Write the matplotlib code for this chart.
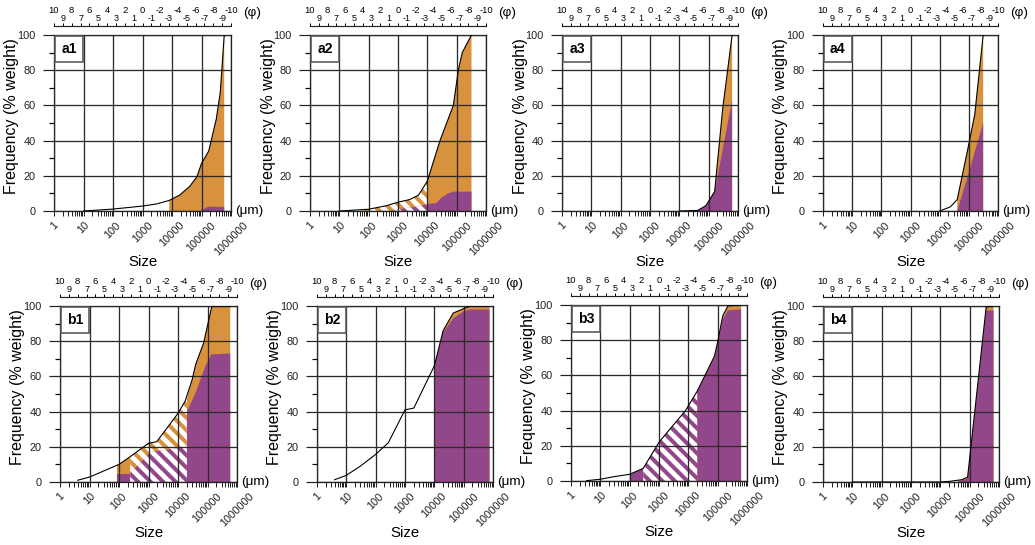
import matplotlib
matplotlib.use('Agg')
import matplotlib.pyplot as plt
from matplotlib.patches import Rectangle
from matplotlib.ticker import FixedLocator, FuncFormatter, LogLocator, NullFormatter

plt.rcParams['font.family'] = ['Liberation Sans', 'DejaVu Sans']
plt.rcParams['hatch.linewidth'] = 2.3
plt.rcParams['hatch.color'] = 'white'

ORANGE = '#d8913d'
PURPLE = '#93478b'
GRID = '#2a2a2a'

DPI = 150
W, H = 1035.0, 545.0

# ---- data (size in um, cumulative frequency in % weight) ----
size_ticks = [1, 10, 100, 1000, 10000, 100000, 1000000]
size_labels = ['1', '10', '100', '1000', '10000', '100000', '1000000']
freq_ticks = [0, 20, 40, 60, 80, 100]
phi_even = [10, 8, 6, 4, 2, 0, -2, -4, -6, -8, -10]
phi_odd = [9, 7, 5, 3, 1, -1, -3, -5, -7, -9]

# a1
a1_curve_x = [10, 100, 1000, 3000, 8000, 18000, 40000, 70000, 100000, 175000, 315000, 430000, 590000]
a1_curve_y = [0, 1.1, 2.8, 4.0, 6.0, 9.0, 14, 19.5, 27, 34, 52, 67, 100]
a1_orange_x = [8000, 18000, 40000, 70000, 100000, 175000, 315000, 430000, 590000]
a1_orange_y = [6.0, 9.0, 14, 19.5, 27, 34, 52, 67, 100]
a1_purple_x = [90000, 170000, 590000]
a1_purple_y = [0, 2.5, 2.3]

# a2
a2_curve_x = [10, 100, 400, 1000, 2500, 5000, 10000, 27000, 77000, 114000, 155000, 320000]
a2_curve_y = [0, 1.0, 3.0, 5.0, 6.5, 9.0, 17, 40, 60, 80, 90, 100]
a2_orange_x = [10000, 27000, 77000, 114000, 155000, 320000]
a2_orange_y = [17, 40, 60, 80, 90, 100]
a2_purple_x = [10000, 20000, 30000, 50000, 80000, 320000]
a2_purple_y = [4, 4.5, 7.5, 10, 11, 11]
a2_hatch_orange_x = [50, 100, 400, 1000, 2500, 5000, 10000]
a2_hatch_orange_y = [0, 1.0, 3.0, 5.0, 6.5, 9.0, 17]
a2_hatch_purple_x = [600, 1000, 2500, 5000, 10000]
a2_hatch_purple_y = [0, 1, 2, 2.5, 4]

# a3
a3_curve_x = [10000, 42000, 80000, 160000, 300000, 630000]
a3_curve_y = [0, 0.3, 3, 11, 58, 100]
a3_orange_x = [42000, 80000, 160000, 300000, 630000]
a3_orange_y = [0.3, 3, 11, 58, 100]
a3_purple_x = [42000, 80000, 160000, 630000]
a3_purple_y = [0, 3, 11, 63]

# a4
a4_curve_x = [10000, 23000, 40000, 100000, 160000, 310000]
a4_curve_y = [0, 2.3, 6.5, 38, 55, 100]
a4_orange_x = [40000, 100000, 160000, 310000]
a4_orange_y = [6.5, 38, 55, 100]
a4_purple_x = [40000, 100000, 310000]
a4_purple_y = [0, 22, 50]

# b1
b1_curve_x = [4, 10, 100, 240, 1000, 1900, 10000, 17500, 30000, 40000, 74000, 141000, 590000]
b1_curve_y = [1, 2.8, 10, 14.4, 22, 22.9, 39, 46, 58, 67, 79, 100, 100]
b1_orange_left_x = [85, 100, 240]
b1_orange_left_y = [9.5, 10, 14.4]
b1_purple_left_x = [85, 240]
b1_purple_left_y = [4.5, 4.5]
b1_hatch_orange_x = [240, 1000, 1900, 10000, 17500, 20000]
b1_hatch_orange_y = [14.4, 22, 22.9, 39, 46, 47.5]
b1_hatch_purple_x = [240, 1150, 20000]
b1_hatch_purple_y = [5, 17, 20]
b1_orange_x = [20000, 30000, 40000, 74000, 141000, 590000]
b1_orange_y = [47.5, 58, 67, 79, 100, 100]
b1_purple_x = [20000, 38000, 83000, 135000, 590000]
b1_purple_y = [40, 50, 65.5, 72.5, 73]

# b2
b2_curve_x = [4, 10, 30, 100, 270, 1000, 2000, 10000, 20000, 44000, 100000, 165000, 760000]
b2_curve_y = [1.3, 3.8, 9, 15.7, 22.3, 41, 42, 66, 86, 96, 98.5, 100, 100]
b2_orange_x = [10000, 20000, 44000, 100000, 165000, 760000]
b2_orange_y = [66, 86, 96, 98.5, 100, 100]
b2_purple_x = [10000, 20000, 44000, 100000, 165000, 760000]
b2_purple_y = [66, 85, 93, 97, 98, 98]

# b3
b3_curve_x = [3.4, 10, 30, 100, 290, 1000, 2500, 8000, 20000, 78000, 100000, 150000, 225000, 630000]
b3_curve_y = [0.2, 1, 2.5, 3.8, 7.2, 22, 30, 40, 51, 71, 79, 94, 99.5, 100]
b3_purple_left_x = [100, 290]
b3_purple_left_y = [3.8, 7.2]
b3_hatch_purple_x = [290, 1000, 2500, 8000, 20000]
b3_hatch_purple_y = [7.2, 22, 30, 40, 51]
b3_orange_x = [20000, 78000, 100000, 150000, 225000, 630000]
b3_orange_y = [51, 71, 79, 94, 99.5, 100]
b3_purple_x = [20000, 78000, 100000, 150000, 225000, 630000]
b3_purple_y = [51, 70, 78, 92, 97, 97.5]

# b4
b4_curve_x = [10, 10000, 21000, 54000, 85000, 365000, 650000]
b4_curve_y = [0, 0, 0.4, 1.3, 2.8, 99.4, 100]
b4_orange_x = [40000, 54000, 85000, 365000, 650000]
b4_orange_y = [1.0, 1.3, 2.8, 99.4, 100]
b4_purple_x = [40000, 85000, 365000, 650000]
b4_purple_y = [0, 2.0, 97.5, 97.5]


def px(v):
    # pixel size -> points
    return v * 72.0 / DPI


panels = [
    ('a1', (54, 35, 177, 176), (a1_curve_x, a1_curve_y),
     [(a1_orange_x, a1_orange_y, ORANGE, False), (a1_purple_x, a1_purple_y, PURPLE, False)]),
    ('a2', (310, 35, 176, 176), (a2_curve_x, a2_curve_y),
     [(a2_orange_x, a2_orange_y, ORANGE, False), (a2_purple_x, a2_purple_y, PURPLE, False),
      (a2_hatch_orange_x, a2_hatch_orange_y, ORANGE, True),
      (a2_hatch_purple_x, a2_hatch_purple_y, PURPLE, True)]),
    ('a3', (562, 35, 176, 176), (a3_curve_x, a3_curve_y),
     [(a3_orange_x, a3_orange_y, ORANGE, False), (a3_purple_x, a3_purple_y, PURPLE, False)]),
    ('a4', (823, 35, 175, 176), (a4_curve_x, a4_curve_y),
     [(a4_orange_x, a4_orange_y, ORANGE, False), (a4_purple_x, a4_purple_y, PURPLE, False)]),
    ('b1', (60, 306, 177, 176), (b1_curve_x, b1_curve_y),
     [(b1_orange_left_x, b1_orange_left_y, ORANGE, False),
      (b1_purple_left_x, b1_purple_left_y, PURPLE, False),
      (b1_orange_x, b1_orange_y, ORANGE, False), (b1_purple_x, b1_purple_y, PURPLE, False),
      (b1_hatch_orange_x, b1_hatch_orange_y, ORANGE, True),
      (b1_hatch_purple_x, b1_hatch_purple_y, PURPLE, True)]),
    ('b2', (317, 306, 176, 176), (b2_curve_x, b2_curve_y),
     [(b2_orange_x, b2_orange_y, ORANGE, False), (b2_purple_x, b2_purple_y, PURPLE, False)]),
    ('b3', (571, 305, 176, 176), (b3_curve_x, b3_curve_y),
     [(b3_purple_left_x, b3_purple_left_y, PURPLE, False),
      (b3_orange_x, b3_orange_y, ORANGE, False), (b3_purple_x, b3_purple_y, PURPLE, False),
      (b3_hatch_purple_x, b3_hatch_purple_y, PURPLE, True)]),
    ('b4', (823, 306, 176, 176), (b4_curve_x, b4_curve_y),
     [(b4_orange_x, b4_orange_y, ORANGE, False), (b4_purple_x, b4_purple_y, PURPLE, False)]),
]

fig = plt.figure(figsize=(W / DPI, H / DPI), dpi=DPI)
int_fmt = FuncFormatter(lambda v, p: '%d' % v)

for name, (l, t, w, h), (cx, cy), fills in panels:
    ax = fig.add_axes([l / W, 1 - (t + h) / H, w / W, h / H])

    for fx, fy, col, hatched in fills:
        if hatched:
            ax.fill_between(fx, 0, fy, facecolor=col, edgecolor='white', lw=0,
                            hatch='\\\\\\\\', zorder=1)
        else:
            ax.fill_between(fx, 0, fy, facecolor=col, lw=0, zorder=1)
    ax.plot(cx, cy, color='k', lw=px(1.1), zorder=3)

    ax.set_xscale('log')
    ax.set_xlim(1, 1e6)
    ax.set_ylim(0, 100)
    ax.set_axisbelow(False)
    ax.set_xticks(size_ticks, labels=size_labels, rotation=45, ha='center', va='top')
    ax.xaxis.set_minor_locator(LogLocator(base=10, subs=range(2, 10), numticks=20))
    ax.xaxis.set_minor_formatter(NullFormatter())
    ax.set_yticks(freq_ticks)
    ax.set_yticks([10, 30, 50, 70, 90], minor=True)
    ax.tick_params(axis='x', which='both', direction='out', length=px(5), width=px(1),
                   pad=px(4), labelsize=px(11), colors='#222222')
    ax.tick_params(axis='y', which='major', direction='out', length=px(11), width=px(1.2),
                   pad=px(7), labelsize=px(11), colors='#222222')
    ax.tick_params(axis='y', which='minor', direction='out', length=px(5), width=px(1.2))
    ax.grid(True, which='major', color=GRID, lw=px(1.3))
    for s in ax.spines.values():
        s.set_color('#222222')
        s.set_linewidth(px(1.3))

    # label box
    ax.add_patch(Rectangle((0.006, 0.848), 0.157, 0.147, transform=ax.transAxes,
                           fc='white', ec='#555555', lw=px(1.6), zorder=5))
    ax.text(0.085, 0.92, name, transform=ax.transAxes, ha='center', va='center',
            fontsize=px(14), fontweight='bold', zorder=6)

    # phi scale above the plot
    ly = t - 9
    axp = fig.add_axes([l / W, 1 - ly / H - 0.0001, w / W, 0.0001])
    axp.set_xlim(10, -10)
    axp.patch.set_visible(False)
    for s in ['left', 'right', 'bottom']:
        axp.spines[s].set_visible(False)
    axp.spines['top'].set_color('#222222')
    axp.spines['top'].set_linewidth(px(1.2))
    axp.set_yticks([])
    axp.xaxis.tick_top()
    axp.xaxis.set_major_locator(FixedLocator(phi_even))
    axp.xaxis.set_minor_locator(FixedLocator(phi_odd))
    axp.xaxis.set_major_formatter(int_fmt)
    axp.xaxis.set_minor_formatter(int_fmt)
    axp.tick_params(axis='x', which='major', direction='out', length=px(3), width=px(1),
                    pad=px(8), labelsize=px(9.5))
    axp.tick_params(axis='x', which='minor', direction='out', length=px(3), width=px(1),
                    pad=px(0.3), labelsize=px(9))

    fig.text((l + w + 12) / W, 1 - (t - 22) / H, '(\u03c6)', ha='left', va='center',
             fontsize=px(13.5))
    fig.text((l + w + 4) / W, 1 - (t + h) / H, '(\u03bcm)', ha='left', va='center',
             fontsize=px(13.5))
    fig.text((l + w / 2) / W, 1 - (t + h + 51) / H, 'Size', ha='center', va='center',
             fontsize=px(15))
    fig.text((l - 42) / W, 1 - (t + h * 0.46) / H, 'Frequency (% weight)', rotation=90,
             ha='center', va='center', fontsize=px(16))

fig.savefig('out.png', dpi=DPI)
